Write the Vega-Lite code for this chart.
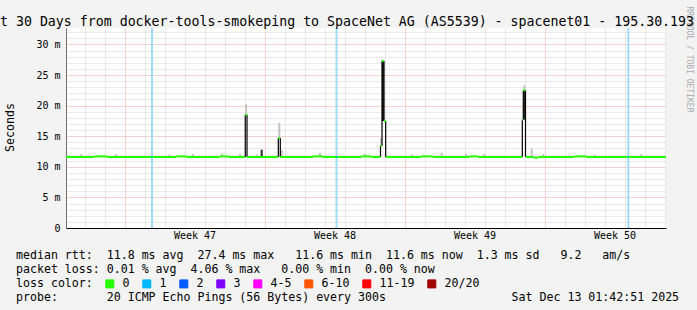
{
  "$schema": "https://vega.github.io/schema/vega-lite/v6.json",
  "width": 600,
  "height": 200,
  "autosize": "none",
  "padding": {"left": 66, "top": 28, "right": 31, "bottom": 82},
  "background": "#f3f3f3",
  "config": {
    "view": {"fill": "white", "stroke": null},
    "font": "DejaVu Sans Mono",
    "axisX": {
      "ticks": false, "domainColor": "#000000", "grid": true, "gridDash": [1, 1],
      "labelFont": "DejaVu Sans Mono", "labelFontSize": 10, "labelColor": "#000000",
      "labelPadding": 2, "labelOffset": 10, "labelOverlap": false, "labelBound": false, "labelFlush": false,
      "labelAngle": 0, "labelAlign": "center", "labelBaseline": "top",
      "titleFont": "DejaVu Sans Mono", "titleFontSize": 11.6, "titleFontWeight": "normal", "titleColor": "#000000",
      "titleX": -50.5, "titleY": 30, "titleAlign": "left", "titleAnchor": "start", "titleBaseline": "alphabetic",
      "titleLineHeight": 14
    }
  },
  "title": {
    "text": "t 30 Days from docker-tools-smokeping to SpaceNet AG (AS5539) - spacenet01 - 195.30.193",
    "anchor": "start", "frame": "group", "dx": -66, "offset": -33, "baseline": "alphabetic",
    "font": "DejaVu Sans Mono", "fontSize": 13.26, "fontWeight": "normal", "color": "#000000"
  },
  "datasets": {
    "lossbg": [
      {"t": "2025-11-17T08:55:00Z", "loss": "1"},
      {"t": "2025-11-26T14:19:00Z", "loss": "1"},
      {"t": "2025-12-11T04:28:00Z", "loss": "1"}
    ],
    "smokeLight": [
      {"t": "2025-11-22T01:52:00Z", "lo": 18.5, "hi": 20.2},
      {"t": "2025-11-23T17:41:00Z", "lo": 14.7, "hi": 17.2},
      {"t": "2025-11-28T19:40:00Z", "lo": 13.4, "hi": 14.7},
      {"t": "2025-12-05T23:48:00Z", "lo": 22.5, "hi": 23.3},
      {"t": "2025-12-06T08:33:00Z", "lo": 11.6, "hi": 13.0},
      {"t": "2025-11-23T20:33:00Z", "lo": 11.6, "hi": 12.7},
      {"t": "2025-11-13T20:00:00Z", "lo": 11.6, "hi": 12.1},
      {"t": "2025-11-15T14:00:00Z", "lo": 11.6, "hi": 12.1},
      {"t": "2025-11-18T06:00:00Z", "lo": 11.6, "hi": 12.0},
      {"t": "2025-11-19T10:00:00Z", "lo": 11.6, "hi": 12.1},
      {"t": "2025-11-20T20:55:00Z", "lo": 11.6, "hi": 12.1},
      {"t": "2025-11-21T18:31:00Z", "lo": 11.6, "hi": 12.1},
      {"t": "2025-11-22T14:33:00Z", "lo": 11.6, "hi": 12.0},
      {"t": "2025-11-25T18:31:00Z", "lo": 11.6, "hi": 12.3},
      {"t": "2025-11-28T00:31:00Z", "lo": 11.6, "hi": 12.1},
      {"t": "2025-11-30T09:00:00Z", "lo": 11.6, "hi": 12.0},
      {"t": "2025-12-01T20:33:00Z", "lo": 11.6, "hi": 12.3},
      {"t": "2025-12-03T01:43:00Z", "lo": 11.6, "hi": 12.1},
      {"t": "2025-12-03T23:40:00Z", "lo": 11.6, "hi": 12.1},
      {"t": "2025-12-06T22:29:00Z", "lo": 11.6, "hi": 12.1},
      {"t": "2025-12-09T12:00:00Z", "lo": 11.6, "hi": 12.0},
      {"t": "2025-12-11T20:00:00Z", "lo": 11.6, "hi": 12.1}
    ],
    "smokeDark": [
      {"t": "2025-11-22T20:33:00Z", "lo": 11.6, "hi": 12.8},
      {"t": "2025-11-28T22:07:00Z", "lo": 17.5, "hi": 27.3},
      {"t": "2025-12-05T23:48:00Z", "lo": 17.7, "hi": 22.5}
    ],
    "edges": [
      {"t": "2025-11-22T00:50:00Z", "lo": 11.6, "hi": 18.5},
      {"t": "2025-11-22T02:55:00Z", "lo": 11.6, "hi": 18.5},
      {"t": "2025-11-23T16:29:00Z", "lo": 11.6, "hi": 14.7},
      {"t": "2025-11-23T18:53:00Z", "lo": 11.6, "hi": 14.7},
      {"t": "2025-11-28T19:07:00Z", "lo": 11.6, "hi": 13.4},
      {"t": "2025-11-28T20:55:00Z", "lo": 13.4, "hi": 27.3},
      {"t": "2025-11-28T23:19:00Z", "lo": 17.5, "hi": 27.3},
      {"t": "2025-11-29T01:21:00Z", "lo": 11.6, "hi": 17.5},
      {"t": "2025-12-05T21:17:00Z", "lo": 11.6, "hi": 17.7},
      {"t": "2025-12-05T22:29:00Z", "lo": 17.7, "hi": 22.5},
      {"t": "2025-12-06T01:07:00Z", "lo": 11.6, "hi": 22.5}
    ],
    "median": [
      {"t": "2025-11-13T01:42:51Z", "t2": "2025-11-14T12:00:00Z", "v": 11.6, "loss": "0"},
      {"t": "2025-11-14T12:00:00Z", "t2": "2025-11-15T03:00:00Z", "v": 11.7, "loss": "0"},
      {"t": "2025-11-15T03:00:00Z", "t2": "2025-11-17T08:20:00Z", "v": 11.6, "loss": "0"},
      {"t": "2025-11-17T08:20:00Z", "t2": "2025-11-17T09:32:00Z", "v": 11.6, "loss": "1"},
      {"t": "2025-11-17T09:32:00Z", "t2": "2025-11-18T14:00:00Z", "v": 11.6, "loss": "0"},
      {"t": "2025-11-18T14:00:00Z", "t2": "2025-11-19T02:00:00Z", "v": 11.7, "loss": "0"},
      {"t": "2025-11-19T02:00:00Z", "t2": "2025-11-20T18:00:00Z", "v": 11.6, "loss": "0"},
      {"t": "2025-11-20T18:00:00Z", "t2": "2025-11-21T05:00:00Z", "v": 11.7, "loss": "0"},
      {"t": "2025-11-21T05:00:00Z", "t2": "2025-11-22T00:50:00Z", "v": 11.6, "loss": "0"},
      {"t": "2025-11-22T00:50:00Z", "t2": "2025-11-22T02:55:00Z", "v": 18.5, "loss": "0"},
      {"t": "2025-11-22T02:55:00Z", "t2": "2025-11-23T16:29:00Z", "v": 11.6, "loss": "0"},
      {"t": "2025-11-23T16:29:00Z", "t2": "2025-11-23T18:53:00Z", "v": 14.7, "loss": "0"},
      {"t": "2025-11-23T18:53:00Z", "t2": "2025-11-25T10:00:00Z", "v": 11.6, "loss": "0"},
      {"t": "2025-11-25T10:00:00Z", "t2": "2025-11-25T22:00:00Z", "v": 11.7, "loss": "0"},
      {"t": "2025-11-25T22:00:00Z", "t2": "2025-11-26T13:43:00Z", "v": 11.6, "loss": "0"},
      {"t": "2025-11-26T13:43:00Z", "t2": "2025-11-26T14:55:00Z", "v": 11.6, "loss": "1"},
      {"t": "2025-11-26T14:55:00Z", "t2": "2025-11-27T20:00:00Z", "v": 11.6, "loss": "0"},
      {"t": "2025-11-27T20:00:00Z", "t2": "2025-11-28T08:00:00Z", "v": 11.7, "loss": "0"},
      {"t": "2025-11-28T08:00:00Z", "t2": "2025-11-28T19:07:00Z", "v": 11.6, "loss": "0"},
      {"t": "2025-11-28T19:07:00Z", "t2": "2025-11-28T20:55:00Z", "v": 13.4, "loss": "0"},
      {"t": "2025-11-28T20:55:00Z", "t2": "2025-11-28T23:19:00Z", "v": 27.3, "loss": "0"},
      {"t": "2025-11-28T23:19:00Z", "t2": "2025-11-29T01:21:00Z", "v": 17.5, "loss": "0"},
      {"t": "2025-11-29T01:21:00Z", "t2": "2025-11-30T20:00:00Z", "v": 11.6, "loss": "0"},
      {"t": "2025-11-30T20:00:00Z", "t2": "2025-12-01T10:00:00Z", "v": 11.7, "loss": "0"},
      {"t": "2025-12-01T10:00:00Z", "t2": "2025-12-03T06:00:00Z", "v": 11.6, "loss": "0"},
      {"t": "2025-12-03T06:00:00Z", "t2": "2025-12-03T16:00:00Z", "v": 11.7, "loss": "0"},
      {"t": "2025-12-03T16:00:00Z", "t2": "2025-12-05T21:17:00Z", "v": 11.6, "loss": "0"},
      {"t": "2025-12-05T21:17:00Z", "t2": "2025-12-05T22:29:00Z", "v": 17.7, "loss": "0"},
      {"t": "2025-12-05T22:29:00Z", "t2": "2025-12-06T01:07:00Z", "v": 22.5, "loss": "0"},
      {"t": "2025-12-06T01:07:00Z", "t2": "2025-12-06T10:55:00Z", "v": 11.6, "loss": "0"},
      {"t": "2025-12-06T10:55:00Z", "t2": "2025-12-06T16:55:00Z", "v": 11.5, "loss": "0"},
      {"t": "2025-12-06T16:55:00Z", "t2": "2025-12-08T12:00:00Z", "v": 11.6, "loss": "0"},
      {"t": "2025-12-08T12:00:00Z", "t2": "2025-12-09T02:00:00Z", "v": 11.7, "loss": "0"},
      {"t": "2025-12-09T02:00:00Z", "t2": "2025-12-11T03:52:00Z", "v": 11.6, "loss": "0"},
      {"t": "2025-12-11T03:52:00Z", "t2": "2025-12-11T05:04:00Z", "v": 11.6, "loss": "1"},
      {"t": "2025-12-11T05:04:00Z", "t2": "2025-12-13T01:42:51Z", "v": 11.6, "loss": "0"}
    ]
  },
  "encoding": {
    "x": {"field": "t", "type": "temporal",
          "title": [
            "median\u00a0rtt:\u00a0\u00a011.8\u00a0ms\u00a0avg\u00a0\u00a027.4\u00a0ms\u00a0max\u00a0\u00a0\u00a011.6\u00a0ms\u00a0min\u00a0\u00a011.6\u00a0ms\u00a0now\u00a0\u00a01.3\u00a0ms\u00a0sd\u00a0\u00a0\u00a09.2\u00a0\u00a0\u00a0am/s",
            "packet\u00a0loss:\u00a00.01\u00a0%\u00a0avg\u00a0\u00a04.06\u00a0%\u00a0max\u00a0\u00a0\u00a00.00\u00a0%\u00a0min\u00a0\u00a00.00\u00a0%\u00a0now",
            "loss\u00a0color:",
            "probe:\u00a0\u00a0\u00a0\u00a0\u00a0\u00a0\u00a020\u00a0ICMP\u00a0Echo\u00a0Pings\u00a0(56\u00a0Bytes)\u00a0every\u00a0300s\u00a0\u00a0\u00a0\u00a0\u00a0\u00a0\u00a0\u00a0\u00a0\u00a0\u00a0\u00a0\u00a0\u00a0\u00a0\u00a0\u00a0\u00a0Sat\u00a0Dec\u00a013\u00a001:42:51\u00a02025"
          ],
          "scale": {"type": "utc", "domain": [{"year": 2025, "month": 11, "date": 13, "hours": 1, "minutes": 42, "seconds": 51, "utc": true}, {"year": 2025, "month": 12, "date": 13, "hours": 1, "minutes": 42, "seconds": 51, "utc": true}]},
          "axis": {
            "orient": "bottom",
            "values": [
              {"year": 2025, "month": 11, "date": 14, "utc": true},
              {"year": 2025, "month": 11, "date": 15, "utc": true},
              {"year": 2025, "month": 11, "date": 16, "utc": true},
              {"year": 2025, "month": 11, "date": 17, "utc": true},
              {"year": 2025, "month": 11, "date": 18, "utc": true},
              {"year": 2025, "month": 11, "date": 19, "utc": true},
              {"year": 2025, "month": 11, "date": 20, "utc": true},
              {"year": 2025, "month": 11, "date": 21, "utc": true},
              {"year": 2025, "month": 11, "date": 22, "utc": true},
              {"year": 2025, "month": 11, "date": 23, "utc": true},
              {"year": 2025, "month": 11, "date": 24, "utc": true},
              {"year": 2025, "month": 11, "date": 25, "utc": true},
              {"year": 2025, "month": 11, "date": 26, "utc": true},
              {"year": 2025, "month": 11, "date": 27, "utc": true},
              {"year": 2025, "month": 11, "date": 28, "utc": true},
              {"year": 2025, "month": 11, "date": 29, "utc": true},
              {"year": 2025, "month": 11, "date": 30, "utc": true},
              {"year": 2025, "month": 12, "date": 1, "utc": true},
              {"year": 2025, "month": 12, "date": 2, "utc": true},
              {"year": 2025, "month": 12, "date": 3, "utc": true},
              {"year": 2025, "month": 12, "date": 4, "utc": true},
              {"year": 2025, "month": 12, "date": 5, "utc": true},
              {"year": 2025, "month": 12, "date": 6, "utc": true},
              {"year": 2025, "month": 12, "date": 7, "utc": true},
              {"year": 2025, "month": 12, "date": 8, "utc": true},
              {"year": 2025, "month": 12, "date": 9, "utc": true},
              {"year": 2025, "month": 12, "date": 10, "utc": true},
              {"year": 2025, "month": 12, "date": 11, "utc": true},
              {"year": 2025, "month": 12, "date": 12, "utc": true},
              {"year": 2025, "month": 12, "date": 13, "utc": true}
            ],
            "gridColor": {"condition": {"test": "utcday(datum.value) === 0", "value": "#f0a4a4"}, "value": "#d4d4d4"},
            "labelExpr": "utcday(datum.value) === 3 ? 'Week ' + utcFormat(datum.value, '%V') : ''"
          }}
  },
  "layer": [
    {
      "data": {"name": "lossbg"},
      "mark": {"type": "rule", "strokeWidth": 2, "color": "#9edcf5"},
      "encoding": {}
    },
    {
      "data": {"name": "smokeLight"},
      "mark": {"type": "rule", "strokeWidth": 2, "color": "#c4c4c4", "strokeCap": "butt"},
      "encoding": {
        "y": {"field": "lo", "type": "quantitative",
              "scale": {"domain": [0, 32.68], "nice": false, "zero": true},
              "axis": {"orient": "right", "domain": false, "ticks": false, "labels": false, "grid": false,
                       "title": "RRDTOOL / TOBI OETIKER",
                       "titleFont": "DejaVu Sans Mono", "titleFontSize": 8, "titleFontWeight": "normal", "titleColor": "#aaaaaa",
                       "titleAngle": 90, "titleX": 22, "titleY": 31, "titleAlign": "center", "titleBaseline": "middle"}},
        "y2": {"field": "hi"}
      }
    },
    {
      "data": {"name": "smokeDark"},
      "mark": {"type": "rule", "strokeWidth": 2, "color": "#2a2a2a", "strokeCap": "butt"},
      "encoding": {
        "y": {"field": "lo", "type": "quantitative", "axis": null,
              "scale": {"domain": [0, 32.68], "nice": false, "zero": true}},
        "y2": {"field": "hi"}
      }
    },
    {
      "data": {"name": "edges"},
      "mark": {"type": "rule", "strokeWidth": 1.2, "color": "#000000", "strokeCap": "butt"},
      "encoding": {
        "y": {"field": "lo", "type": "quantitative", "axis": null,
              "scale": {"domain": [0, 32.68], "nice": false, "zero": true}},
        "y2": {"field": "hi"}
      }
    },
    {
      "data": {"name": "median"},
      "mark": {"type": "rule", "strokeWidth": 2, "strokeCap": "butt"},
      "encoding": {
        "x2": {"field": "t2"},
        "y": {"field": "v", "type": "quantitative",
              "scale": {"domain": [0, 32.68], "nice": false, "zero": true},
              "axis": {
                "orient": "left",
                "values": [0,1,2,3,4,5,6,7,8,9,10,11,12,13,14,15,16,17,18,19,20,21,22,23,24,25,26,27,28,29,30,31,32],
                "ticks": false,
                "domainColor": "#707070",
                "grid": true,
                "gridDash": [1, 1],
                "gridColor": {"condition": {"test": "datum.value % 5 === 0", "value": "#f0a4a4"}, "value": "#d4d4d4"},
                "labelExpr": "datum.value % 5 === 0 ? (datum.value === 0 ? '0\u00a0\u00a0' : datum.value + '\u00a0m') : ''",
                "labelFont": "DejaVu Sans Mono", "labelFontSize": 10, "labelColor": "#000000",
                "labelPadding": 6, "labelOverlap": false, "labelBound": false, "labelFlush": false,
                "title": "Seconds",
                "titleFont": "DejaVu Sans Mono", "titleFontSize": 11.6, "titleFontWeight": "normal", "titleColor": "#000000",
                "titleAngle": 270, "titleX": -55.5, "titleY": 99, "titleAlign": "center", "titleBaseline": "middle"
              }},
        "color": {"field": "loss", "type": "nominal",
                  "scale": {"domain": ["0", "1", "2", "3", "4-5", "6-10", "11-19", "20/20"],
                            "range": ["#26ff00", "#00b8ff", "#0059ff", "#7e00ff", "#ff00ff", "#ff5500", "#ff0000", "#a10000"]},
                  "legend": {
                    "orient": "none", "legendX": 38, "legendY": 250, "direction": "horizontal", "title": null,
                    "symbolType": "square", "symbolSize": 64, "symbolStrokeWidth": 1,
                    "labelFont": "DejaVu Sans Mono", "labelFontSize": 11.6, "labelColor": "#000000",
                    "labelOffset": 7, "columnPadding": 10, "padding": 0,
                    "encode": {"symbols": {"update": {"fill": {"scale": "color", "field": "value"}, "stroke": {"value": "#000000"}, "strokeWidth": {"value": 1}, "opacity": {"value": 1}, "fillOpacity": {"value": 1}}}}
                  }}
      }
    }
  ],
  "resolve": {"scale": {"y": "independent"}}
}
